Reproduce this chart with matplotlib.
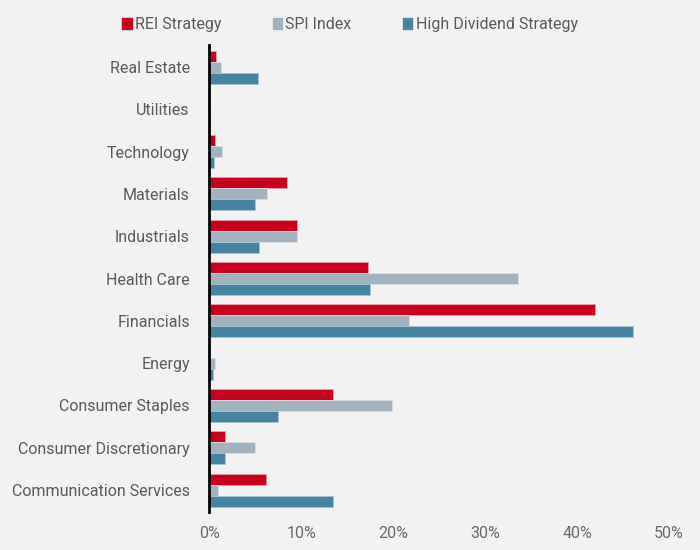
import matplotlib.pyplot as plt
import numpy as np
from matplotlib.patches import Patch

plt.rcParams['font.family'] = ['Roboto', 'DejaVu Sans']

sectors = ["Communication Services", "Consumer Discretionary", "Consumer Staples", "Energy",
           "Financials", "Health Care", "Industrials", "Materials", "Technology",
           "Utilities", "Real Estate"]
rei = [6.2, 1.75, 13.5, 0.0, 41.9, 17.2, 9.5, 8.45, 0.6, 0.0, 0.7]
spi = [0.95, 5.0, 19.9, 0.6, 21.7, 33.6, 9.5, 6.25, 1.35, 0.1, 1.25]
hd = [13.4, 1.7, 7.5, 0.4, 46.1, 17.5, 5.4, 5.0, 0.5, 0.05, 5.3]

c_rei = "#C8001E"
c_spi = "#A2B3BF"
c_hd = "#4483A2"
bg = "#F2F2F2"
txt = "#5A5A5A"

fig = plt.figure(figsize=(7, 5.5), dpi=100, facecolor=bg)
ax = fig.add_axes([0.299, 0.069, 0.657, 0.849])
ax.set_facecolor(bg)

y = np.arange(len(sectors))
h = 0.26
ax.barh(y + h, rei, h, color=c_rei, edgecolor="#E8A0A8", linewidth=0.6)
ax.barh(y, spi, h, color=c_spi, edgecolor="#D8DEE3", linewidth=0.6)
ax.barh(y - h, hd, h, color=c_hd, edgecolor="#A8C4D2", linewidth=0.6)

ax.set_xlim(0, 50)
ax.set_ylim(-0.52, 10.52)
ax.set_yticks(y)
ax.set_yticklabels(sectors)
ax.set_xticks(range(0, 51, 10))
ax.set_xticklabels([f"{v}%" for v in range(0, 51, 10)])
ax.tick_params(axis='both', length=0, labelsize=11.5, labelcolor=txt)
ax.tick_params(axis='x', pad=10, labelcolor="#6A6A6A")
ax.tick_params(axis='y', pad=14)

for s in ["top", "right", "bottom"]:
    ax.spines[s].set_visible(False)
ax.spines["left"].set_color("black")
ax.spines["left"].set_linewidth(2)
ax.spines["left"].set_zorder(5)

handles = [Patch(color=c_rei, label="REI Strategy"),
           Patch(color=c_spi, label="SPI Index"),
           Patch(color=c_hd, label="High Dividend Strategy")]
fig.legend(handles=handles, loc="upper center", bbox_to_anchor=(0.5, 0.995), ncol=3,
           frameon=False, fontsize=11.5, labelcolor=txt, handlelength=0.6,
           handleheight=0.6, handletextpad=0.2, columnspacing=3.2)

fig.savefig("out.png", dpi=100, facecolor=bg)
